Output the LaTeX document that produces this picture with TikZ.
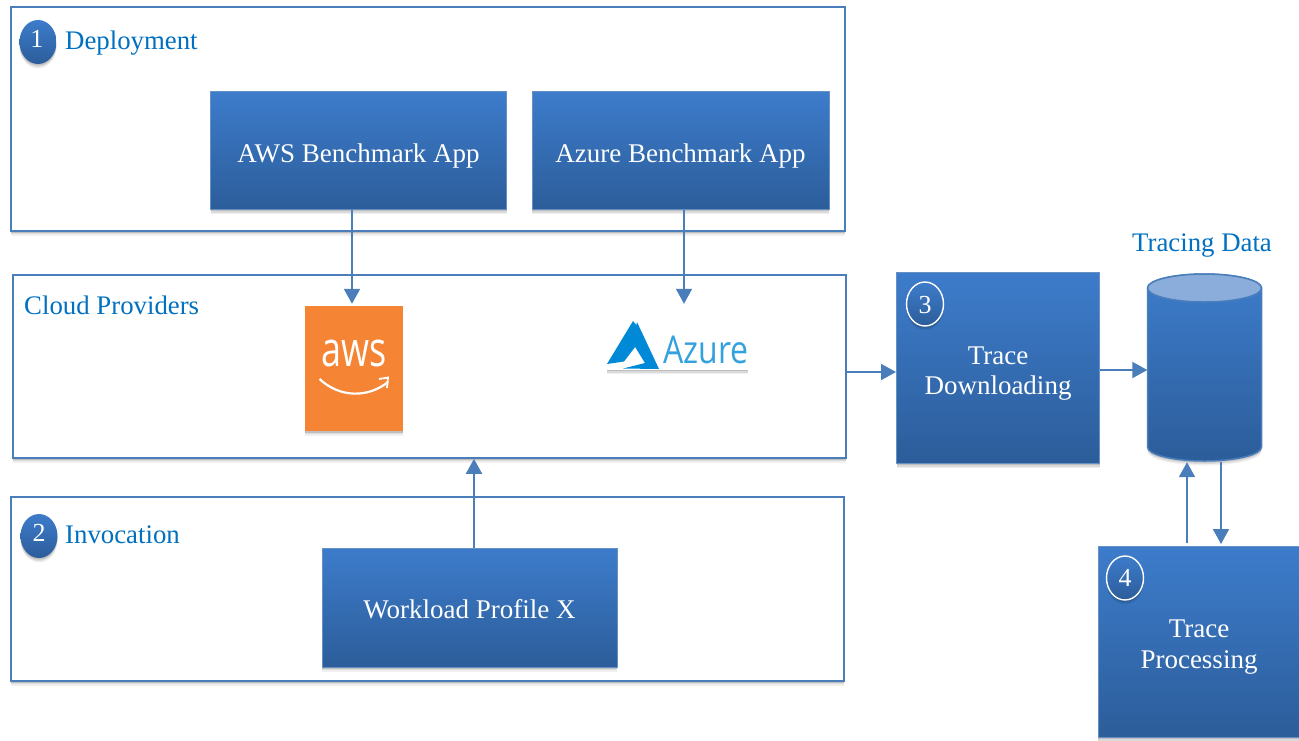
\documentclass[tikz,border=0pt]{standalone}
\usepackage{fontspec}
\setmainfont{Liberation Serif}
\newfontfamily\logosans{Open Sans}
\usetikzlibrary{arrows.meta,shadows,shapes.geometric}
\definecolor{lineblue}{HTML}{4A7EBB}
\definecolor{topblue}{HTML}{3D7CCB}
\definecolor{botblue}{HTML}{2C5D9A}
\definecolor{textblue}{HTML}{0070C0}
\definecolor{awsorange}{HTML}{F58534}
\definecolor{azureblue}{HTML}{0089D6}
\definecolor{lidblue}{HTML}{8AADDC}
\tikzset{
  softshadow/.style={
    drop shadow={shadow xshift=0pt,shadow yshift=-4.5pt,opacity=.06,fill=black},
    drop shadow={shadow xshift=0pt,shadow yshift=-3pt,opacity=.09,fill=black},
    drop shadow={shadow xshift=0pt,shadow yshift=-1.5pt,opacity=.12,fill=black}},
  groupbox/.style={draw=lineblue,line width=1.7pt,fill=white,inner sep=0pt,softshadow},
  bluebox/.style={draw=lineblue!85!white,line width=1pt,top color=topblue,bottom color=botblue,
    inner sep=0pt,softshadow},
  boxtext/.style={text=white,inner sep=0pt,align=center,font=\fontsize{27}{30.5}\selectfont},
  title/.style={text=textblue,font=\fontsize{26.8}{30}\selectfont,anchor=base west,inner sep=0pt},
  badge/.style={ellipse,minimum width=37pt,minimum height=44pt,inner sep=0pt,top color=topblue,bottom color=botblue,softshadow},
  badgew/.style={badge,draw=white,line width=1.4pt},
  badgetext/.style={text=white,inner sep=0pt,font=\fontsize{26}{30}\selectfont},
  link/.style={draw=lineblue,line width=2pt,-{Triangle[length=15pt,width=16pt]}},
}
\begin{document}
\begin{tikzpicture}[x=1pt,y=-1pt]
\useasboundingbox (0,0) rectangle (1299,740);
% group frames
\node[groupbox,minimum width=834pt,minimum height=224pt] (deploy) at (428,119) {};
\node[groupbox,minimum width=833pt,minimum height=183pt] (cloud) at (429.5,366.5) {};
\node[groupbox,minimum width=833pt,minimum height=184pt] (invoke) at (427.5,589) {};
% group titles
\node[badge] (b1) at (38,42) {};
\node[badgetext] (n1) at (37,39) {1};
\node[title] (tdeploy) at (65,49.5) {Deployment};
\node[title] (tcloud) at (24,314.5) {Cloud Providers};
\node[badge] (b2) at (39,536) {};
\node[badgetext] (n2) at (39,533) {2};
\node[title] (tinvoke) at (65,543.5) {Invocation};
\node[title] (tdata) at (1132,251) {Tracing Data};
% blue boxes
\node[bluebox,minimum width=296pt,minimum height=118pt] (awsapp) at (358.5,150.5) {};
\node[boxtext] (awsappt) at ([yshift=-6pt]awsapp.center) {AWS Benchmark App};
\node[bluebox,minimum width=297pt,minimum height=118pt] (azapp) at (680.5,150.5) {};
\node[boxtext] (azappt) at ([yshift=-6pt]azapp.center) {Azure Benchmark App};
\node[bluebox,minimum width=295pt,minimum height=119pt] (work) at (469.5,607.5) {};
\node[boxtext] (workt) at ([yshift=-2pt]work.center) {Workload Profile X};
\node[bluebox,minimum width=203pt,minimum height=191pt] (down) at (998,368) {};
\node[boxtext] (downt) at ([yshift=-5.5pt]down.center) {Trace\\Downloading};
\node[bluebox,minimum width=202pt,minimum height=191pt] (proc) at (1199,642) {};
\node[boxtext] (proct) at ([yshift=-5pt]proc.center) {Trace\\Processing};
\node[badgew] (b3) at (925,304) {};
\node[badgetext] (n3) at (925,305) {3};
\node[badgew] (b4) at (1125,578) {};
\node[badgetext] (n4) at (1125,578) {4};
% AWS logo
\node[fill=awsorange,minimum width=98pt,minimum height=125pt,inner sep=0pt,softshadow] (awslogo) at (354,368.5) {};
\node[text=white,inner sep=0pt,font=\logosans\fontsize{36}{36}\selectfont,yscale=1.35,transform shape] (awstext) at (354,353) {aws};
\draw[white,line width=2.2pt] (319.5,379) .. controls (340,398) and (368,398) .. (388,382);
\draw[white,line width=1.8pt] (379,379) -- (388,377.5) -- (387,388);
% Azure logo
\node[fill=white,minimum width=141pt,minimum height=49pt,inner sep=0pt,softshadow] (azlogo) at (677.5,345) {};
\fill[azureblue] (633,321) -- (607,364) -- (624,361.5) -- (642,338) -- (638,327) -- cycle;
\fill[azureblue] (637,322) -- (659,369) -- (623,368.5) -- (645,363) -- (632,342) -- cycle;
\node[text=azureblue!80!white,inner sep=0pt,font=\logosans\fontsize{32}{32}\selectfont,yscale=1.2,transform shape] (aztext) at (706,350) {Azure};
% cylinder
\node[inner sep=0pt,minimum width=114pt,minimum height=186pt] (data) at (1204.5,367.5) {};
\path[softshadow,draw=lineblue,line width=1.5pt,top color=topblue,bottom color=botblue]
  (1147.5,288) -- (1147.5,447) arc[start angle=180,end angle=0,x radius=57,y radius=14]
  -- (1261.5,288) arc[start angle=0,end angle=-180,x radius=57,y radius=14] -- cycle;
\path[draw=lineblue,line width=1.5pt,fill=lidblue] (1204.5,288) ellipse[x radius=57,y radius=14];
% connectors
\draw[link] ([xshift=-6.5pt]awsapp.south) -- ([xshift=-2pt,yshift=2pt]awslogo.north);
\draw[link,line width=1.6pt] ([xshift=3.5pt]azapp.south) -- ([xshift=6.5pt,yshift=16.5pt]azlogo.north);
\draw[link] ([xshift=4.5pt]work.north) -- ([xshift=44.5pt]cloud.south);
\draw[link] ([yshift=-5.5pt]cloud.east) -- ([yshift=-4pt]down.west);
\draw[link] ([yshift=-2pt]down.east) -- ([yshift=-2.5pt]data.west);
\draw[link] ([xshift=-12pt,yshift=3pt]proc.north) -- ([xshift=-17.5pt,yshift=-1.5pt]data.south);
\draw[link] ([xshift=16.5pt,yshift=-1.5pt]data.south) -- ([xshift=22pt,yshift=2pt]proc.north);
\end{tikzpicture}
\end{document}
